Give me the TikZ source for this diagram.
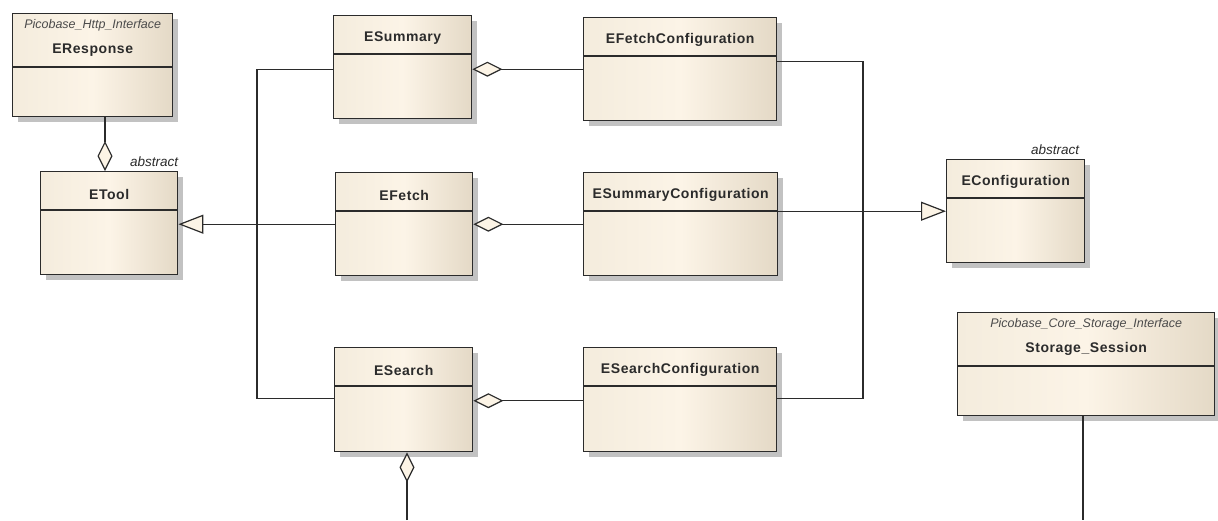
\documentclass[tikz,border=0pt]{standalone}
\usepackage{fontspec}
\setmainfont{Liberation Sans}
\newfontfamily\namefont[LetterSpace=4]{Liberation Sans}
\usetikzlibrary{arrows.meta,shadows,calc}

\definecolor{clsL}{HTML}{F4ECDD}
\definecolor{clsM}{HTML}{FCF4E7}
\definecolor{clsR}{HTML}{E4D9C6}
\definecolor{cream}{HTML}{FCF4E6}
\definecolor{ink}{HTML}{2B2B2B}
\definecolor{shadowgrey}{HTML}{C2C2C2}

\tikzset{
  cls/.style={draw=ink, line width=1.4pt, rectangle, anchor=north west, inner sep=0pt,
    left color=clsL, right color=clsR, middle color=clsM,
    drop shadow={shadow xshift=5pt, shadow yshift=-5pt, fill=shadowgrey, opacity=1}},
  sepline/.style={draw=ink, line width=1.4pt},
  clsname/.style={text=ink, inner sep=0pt, font=\namefont\fontsize{14}{16}\selectfont\bfseries},
  stereo/.style={text=ink!85, inner sep=0pt, font=\fontsize{12.5}{14}\selectfont\itshape},
  abstr/.style={text=ink, inner sep=0pt, font=\fontsize{13.5}{15}\selectfont\itshape},
  conn/.style={draw=ink, line width=1.2pt},
  agg/.style={conn, -{Diamond[length=30pt, width=15pt, fill=cream, line width=1.2pt]}},
  gen/.style={conn, -{Triangle[length=25pt, width=19pt, fill=cream, line width=1.2pt]}},
}

% class box: id, x, y, width, height, name
\newcommand\umlbox[6]{%
  \node[cls, minimum width=#4pt, minimum height=#5pt] (#1) at (#2,#3) {};
  \draw[sepline] ([yshift=-39pt]#1.north west) -- ([yshift=-39pt]#1.north east);
  \node[clsname] at ([yshift=-23pt]#1.north) {#6};
}
% class box with a package stereotype: id, x, y, width, height, name, package
\newcommand\umlpkgbox[7]{%
  \node[cls, minimum width=#4pt, minimum height=#5pt] (#1) at (#2,#3) {};
  \draw[sepline] ([yshift=-54pt]#1.north west) -- ([yshift=-54pt]#1.north east);
  \node[stereo] at ([yshift=-12pt]#1.north) {#7};
  \node[clsname] at ([yshift=-37pt]#1.north) {#6};
}

\begin{document}
\begin{tikzpicture}[x=1pt, y=-1pt]
  \useasboundingbox (0,0) rectangle (1218,520);

  % classes
  \umlpkgbox{eresponse}{12}{13}{160}{103}{EResponse}{Picobase\_Http\_Interface}
  \umlbox{etool}{40}{171}{137}{103}{ETool}
  \umlbox{esummary}{333}{15}{138}{103}{ESummary}
  \umlbox{efetch}{335}{172}{137}{103}{EFetch}
  \umlbox{esearch}{334}{347}{138}{104}{ESearch}
  \umlbox{efetchconf}{583}{17}{193}{103}{EFetchConfiguration}
  \umlbox{esummaryconf}{583}{172}{194}{103}{ESummaryConfiguration}
  \umlbox{esearchconf}{583}{347}{193}{104}{ESearchConfiguration}
  \umlbox{econf}{946}{159}{138}{103}{EConfiguration}
  \umlpkgbox{storage}{957}{312}{257}{103}{Storage\_Session}{Picobase\_Core\_Storage\_Interface}

  % abstract markers
  \node[abstr, anchor=base east] at ([yshift=5pt]etool.north east) {abstract};
  \node[abstr, anchor=base east] at ([xshift=-6pt, yshift=5pt]econf.north east) {abstract};

  % junction points of the generalisation trees
  \coordinate (toolbus) at (257,223);
  \coordinate (confbus) at (863,210);
  \coordinate (searchout) at (407,520);
  \coordinate (storageout) at (1083,520);
  \coordinate (respx) at (105,0);

  % aggregations
  \draw[agg] (eresponse.south -| respx) -- (etool.north -| respx);
  \draw[agg] (efetchconf.west) -- (efetchconf.west -| esummary.east);
  \draw[agg] (esummaryconf.west) -- (esummaryconf.west -| efetch.east);
  \draw[agg] ([yshift=-1pt]esearchconf.west) -- ([yshift=-1pt]esearchconf.west -| esearch.east);
  \draw[agg] (searchout) -- (searchout |- esearch.south);
  \draw[conn] (storage.south -| storageout) -- (storageout);

  % generalisation to ETool
  \draw[gen] (efetch.west) -- (efetch.west -| etool.east);
  \draw[conn] ([yshift=-2.5pt]esummary.west) -| (toolbus);
  \draw[conn] ([yshift=1pt]esearch.west) -| (toolbus);

  % generalisation to EConfiguration
  \draw[gen] (esummaryconf.east |- econf.west) -- (econf.west);
  \draw[conn] ([yshift=7.5pt]efetchconf.east) -| (confbus);
  \draw[conn] ([yshift=1pt]esearchconf.east) -| (confbus);
\end{tikzpicture}
\end{document}
